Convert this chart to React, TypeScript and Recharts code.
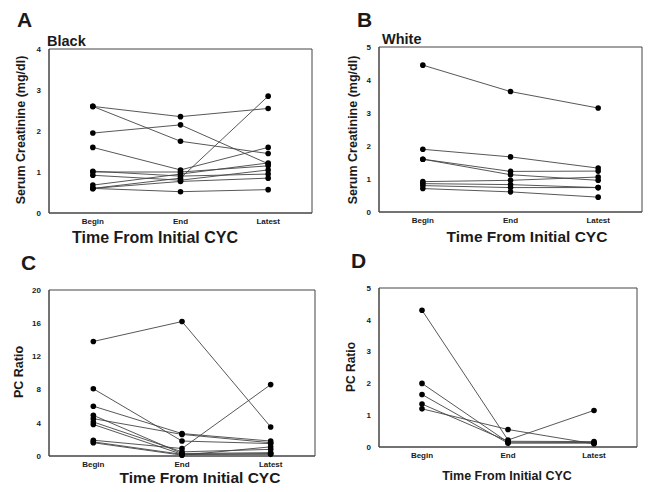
import React from "react";
import { LineChart, Line, XAxis, YAxis, ReferenceArea } from "recharts";

const timePoints = ["Begin", "End", "Latest"];

// one row per patient: [Begin, End, Latest]
const blackCreatinine = [
  [2.6, 2.35, 2.55],
  [2.6, 1.75, 1.45],
  [1.95, 2.15, 1.2],
  [1.6, 1.05, 1.6],
  [0.6, 0.85, 2.85],
  [1.0, 1.0, 1.15],
  [0.92, 0.8, 1.05],
  [0.68, 0.95, 1.22],
  [0.6, 0.77, 0.85],
  [0.6, 0.52, 0.57],
  [1.02, 0.9, 0.95],
];

const whiteCreatinine = [
  [4.45, 3.65, 3.15],
  [1.9, 1.67, 1.33],
  [1.6, 1.23, 1.24],
  [1.6, 1.13, 0.96],
  [0.92, 0.96, 1.06],
  [0.86, 0.83, 0.74],
  [0.8, 0.74, 0.74],
  [0.71, 0.61, 0.45],
];

const blackPcRatio = [
  [13.8, 16.2, 3.5],
  [8.1, 1.8, 1.5],
  [6.0, 2.7, 1.8],
  [4.9, 0.3, 0.4],
  [4.5, 2.6, 1.6],
  [4.1, 0.5, 0.8],
  [3.8, 0.2, 0.2],
  [1.9, 0.9, 8.6],
  [1.6, 0.1, 1.1],
  [1.7, 0.2, 0.3],
];

const whitePcRatio = [
  [4.3, 0.22, 1.15],
  [2.0, 0.15, 0.14],
  [1.65, 0.12, 0.12],
  [1.2, 0.55, 0.1],
  [1.35, 0.18, 0.17],
];

const creatTicksBlack = [0, 1, 2, 3, 4];
const creatTicksWhite = [0, 1, 2, 3, 4, 5];
const pcTicksBlack = [0, 4, 8, 12, 16, 20];
const pcTicksWhite = [0, 1, 2, 3, 4, 5];

const FONT = "'Liberation Sans', Arial, Helvetica, sans-serif";
const INK = "#1a1a1a";
const LINE = "#444";

function toRows(series: number[][]) {
  return timePoints.map((_, i) => {
    const row: Record<string, number> = { t: i };
    series.forEach((s, j) => {
      row[`p${j}`] = s[i];
    });
    return row;
  });
}

type PanelProps = {
  left: number;
  top: number;
  series: number[][];
  ticks: number[];
  margin: { top: number; right: number; left: number; bottom: number };
  xAxisHeight: number;
};

function Panel({ left, top, series, ticks, margin, xAxisHeight }: PanelProps) {
  const rows = toRows(series);
  const yMax = ticks[ticks.length - 1];
  const tickStyle = { fontSize: 8, fontWeight: 700, fill: INK, fontFamily: FONT };
  return (
    <div style={{ position: "absolute", left, top }}>
      <LineChart width={329} height={246} data={rows} margin={margin}>
        <XAxis
          dataKey="t"
          type="number"
          domain={[-0.5, 2.5]}
          ticks={[0, 1, 2]}
          tickFormatter={(v: number) => timePoints[v]}
          tickLine={false}
          tickSize={0}
          tickMargin={5}
          height={xAxisHeight}
          axisLine={{ stroke: LINE }}
          tick={tickStyle}
          interval={0}
        />
        <YAxis
          type="number"
          domain={[0, yMax]}
          ticks={ticks}
          tickLine={false}
          tickSize={0}
          tickMargin={8}
          width={30}
          axisLine={{ stroke: LINE }}
          tick={tickStyle}
          interval={0}
        />
        <ReferenceArea x1={-0.5} x2={2.5} y1={0} y2={yMax} fill="none" stroke={LINE} strokeWidth={1} />
        {series.map((_, j) => (
          <Line
            key={j}
            dataKey={`p${j}`}
            type="linear"
            stroke={LINE}
            strokeWidth={0.9}
            dot={{ r: 2.8, fill: "#000", stroke: "#000", strokeWidth: 0 }}
            activeDot={false}
            isAnimationActive={false}
          />
        ))}
      </LineChart>
    </div>
  );
}

export default function App() {
  const bold = { fontFamily: FONT, fontWeight: 700, fill: INK } as const;
  return (
    <div style={{ position: "fixed", left: 0, top: 0, width: 658, height: 492, background: "#fff" }}>
      <Panel
        left={0}
        top={0}
        series={blackCreatinine}
        ticks={creatTicksBlack}
        margin={{ top: 49, right: 17, left: 19, bottom: 0 }}
        xAxisHeight={33}
      />
      <Panel
        left={329}
        top={0}
        series={whiteCreatinine}
        ticks={creatTicksWhite}
        margin={{ top: 47, right: 16, left: 20, bottom: 0 }}
        xAxisHeight={34}
      />
      <Panel
        left={0}
        top={246}
        series={blackPcRatio}
        ticks={pcTicksBlack}
        margin={{ top: 44, right: 14, left: 19, bottom: 0 }}
        xAxisHeight={36}
      />
      <Panel
        left={329}
        top={246}
        series={whitePcRatio}
        ticks={pcTicksWhite}
        margin={{ top: 42, right: 21, left: 20, bottom: 0 }}
        xAxisHeight={45}
      />
      <svg
        width={658}
        height={492}
        style={{ position: "absolute", left: 0, top: 0, pointerEvents: "none" }}
      >
        <text x={17} y={27} fontSize={21} {...bold}>A</text>
        <text x={357} y={27} fontSize={21} {...bold}>B</text>
        <text x={21} y={270} fontSize={21} {...bold}>C</text>
        <text x={351} y={268} fontSize={21} {...bold}>D</text>

        <text x={47} y={46} fontSize={14.5} {...bold}>Black</text>
        <text x={382} y={44} fontSize={14.5} {...bold}>White</text>

        <text x={155} y={243} fontSize={16} textAnchor="middle" {...bold}>Time From Initial CYC</text>
        <text x={527} y={242} fontSize={15.5} textAnchor="middle" {...bold}>Time From Initial CYC</text>
        <text x={200} y={483} fontSize={15.5} textAnchor="middle" {...bold}>Time From Initial CYC</text>
        <text x={507} y={480} fontSize={12.5} textAnchor="middle" {...bold}>Time From Initial CYC</text>

        <text x={0} y={0} fontSize={12.5} textAnchor="middle" transform="translate(25 130) rotate(-90)" {...bold}>
          Serum Creatinine (mg/dl)
        </text>
        <text x={0} y={0} fontSize={12.5} textAnchor="middle" transform="translate(357 130) rotate(-90)" {...bold}>
          Serum Creatinine (mg/dl)
        </text>
        <text x={0} y={0} fontSize={12.5} textAnchor="middle" transform="translate(23 372) rotate(-90)" {...bold}>
          PC Ratio
        </text>
        <text x={0} y={0} fontSize={12} textAnchor="middle" transform="translate(355 367) rotate(-90)" {...bold}>
          PC Ratio
        </text>
      </svg>
    </div>
  );
}
